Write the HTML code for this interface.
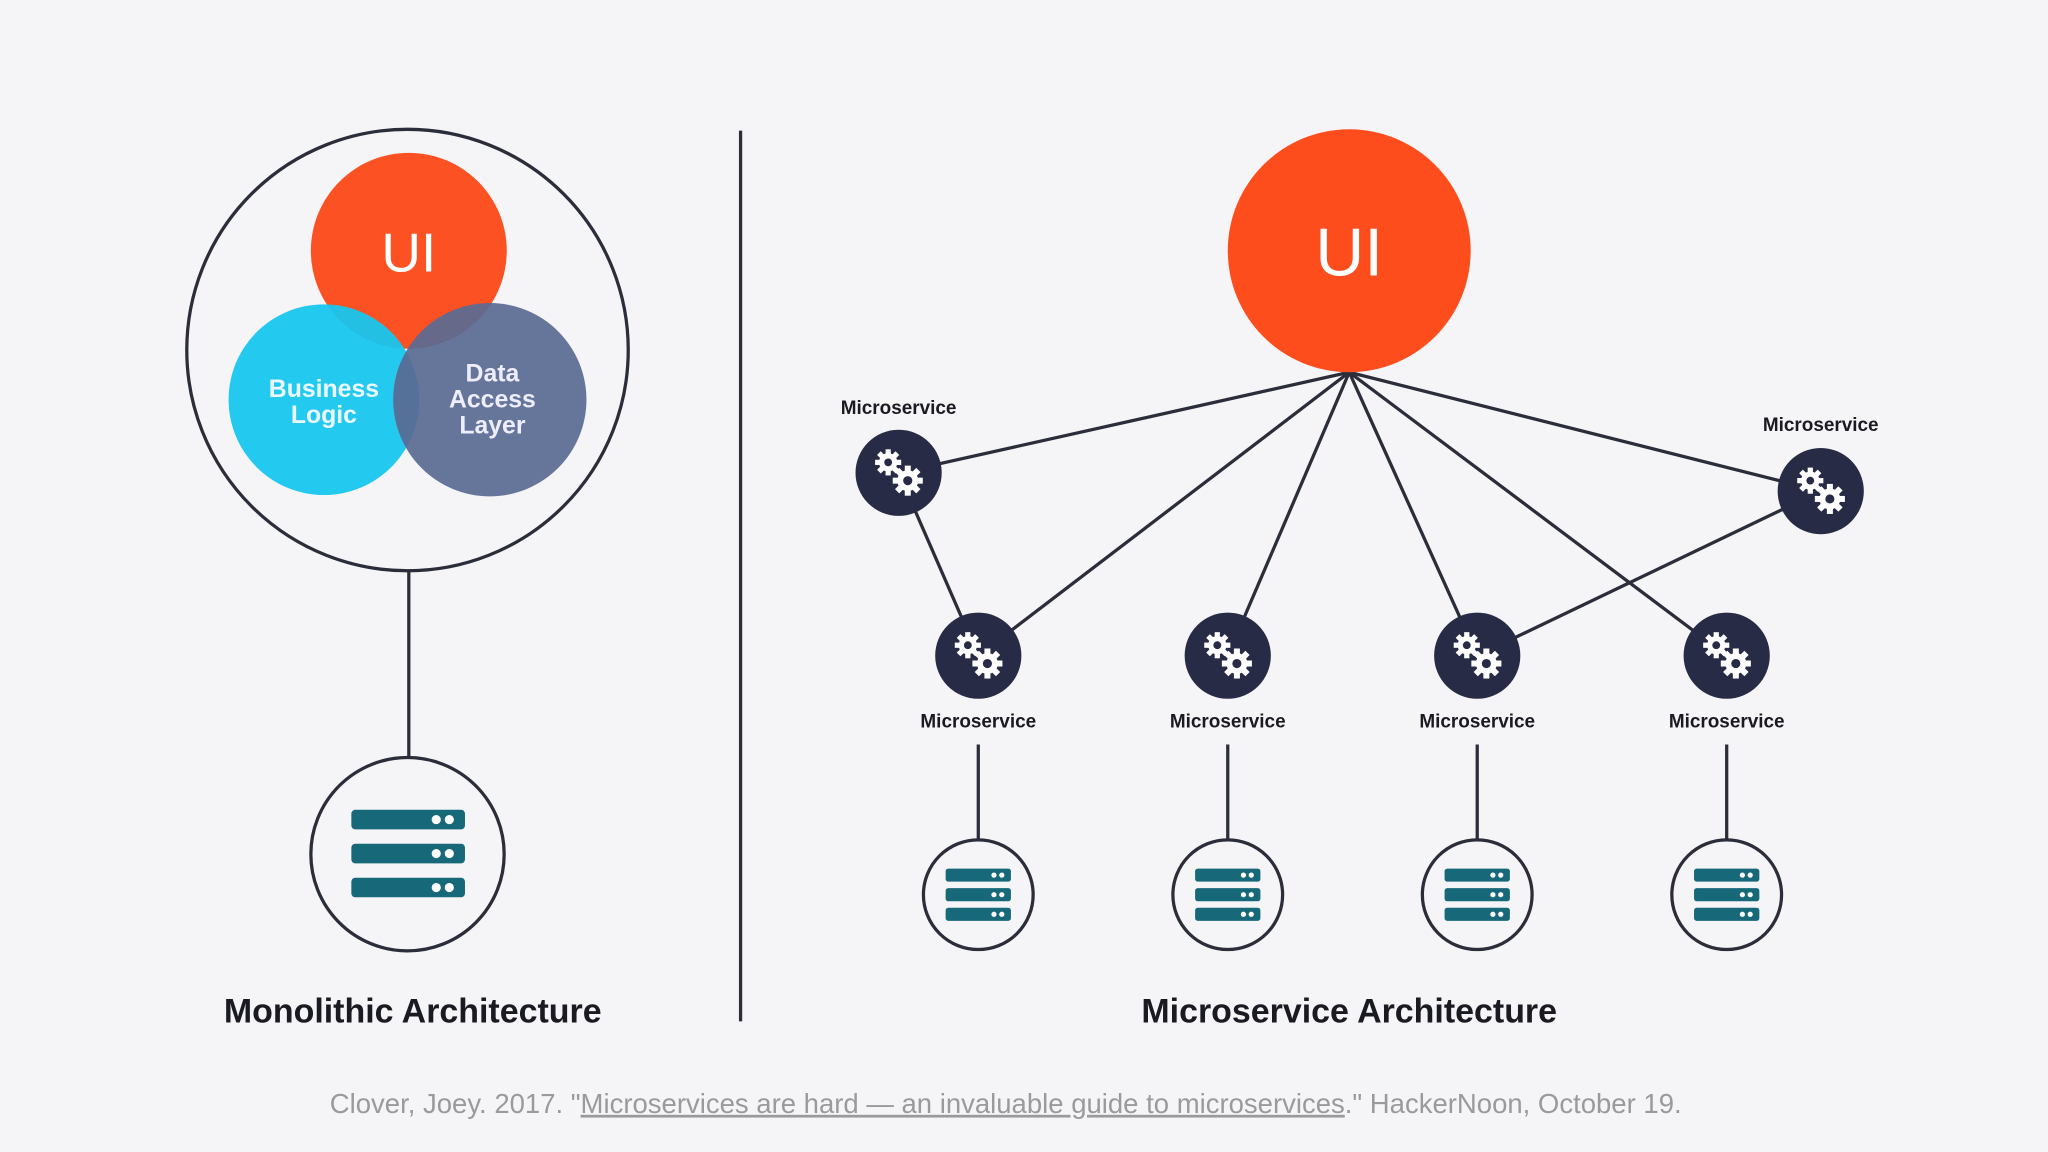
<!DOCTYPE html>
<html><head><meta charset="utf-8"><style>
html,body{margin:0;padding:0;background:#f5f5f7;}
svg{display:block;}
text{font-family:"Liberation Sans",sans-serif;}
</style></head><body>
<svg width="2048" height="1152" viewBox="0 0 1568 882" xmlns="http://www.w3.org/2000/svg">
<defs>
<g id="gear">
<g fill="#fff">
<circle cx="-8" cy="-8" r="7"/>
<g transform="translate(-8,-8)">
<rect x="-2" y="-10" width="4" height="20"/><rect x="-2" y="-10" width="4" height="20" transform="rotate(45)"/><rect x="-2" y="-10" width="4" height="20" transform="rotate(90)"/><rect x="-2" y="-10" width="4" height="20" transform="rotate(135)"/>
</g>
<circle cx="7" cy="6" r="8"/>
<g transform="translate(7,6)">
<rect x="-2.3" y="-11.5" width="4.6" height="23"/><rect x="-2.3" y="-11.5" width="4.6" height="23" transform="rotate(45)"/><rect x="-2.3" y="-11.5" width="4.6" height="23" transform="rotate(90)"/><rect x="-2.3" y="-11.5" width="4.6" height="23" transform="rotate(135)"/>
</g>
</g>
<circle cx="-8" cy="-8" r="3" fill="#272b45"/>
<circle cx="7" cy="6" r="3.5" fill="#272b45"/>
</g>
<g id="dbs">
<rect x="-25" y="-20" width="50" height="10" rx="2" fill="#17697a"/>
<rect x="-25" y="-5" width="50" height="10" rx="2" fill="#17697a"/>
<rect x="-25" y="10" width="50" height="10" rx="2" fill="#17697a"/>
<g fill="#fff"><circle cx="12" cy="-15" r="2"/><circle cx="18" cy="-15" r="2"/><circle cx="12" cy="0" r="2"/><circle cx="18" cy="0" r="2"/><circle cx="12" cy="15" r="2"/><circle cx="18" cy="15" r="2"/></g>
</g>
</defs>
<rect width="1568" height="882" fill="#f5f5f7"/>

<!-- Monolith -->
<circle cx="312" cy="268" r="169" fill="none" stroke="#2b2d3a" stroke-width="2.5"/>
<circle cx="313" cy="192" r="75" fill="#fb5123"/>
<circle cx="248" cy="306" r="73" fill="#18c6ef" fill-opacity="0.95"/>
<circle cx="375" cy="306" r="74" fill="#5a6a92" fill-opacity="0.93"/>
<text x="313" y="208" font-size="42" fill="#fff" text-anchor="middle">UI</text>
<text x="248" y="304" font-size="19" font-weight="bold" fill="#eafaff" text-anchor="middle">Business</text>
<text x="248" y="324" font-size="19" font-weight="bold" fill="#eafaff" text-anchor="middle">Logic</text>
<text x="377" y="292" font-size="19" font-weight="bold" fill="#eef" text-anchor="middle">Data</text>
<text x="377" y="312" font-size="19" font-weight="bold" fill="#eef" text-anchor="middle">Access</text>
<text x="377" y="332" font-size="19" font-weight="bold" fill="#eef" text-anchor="middle">Layer</text>
<line x1="313" y1="437" x2="313" y2="580" stroke="#2b2d3a" stroke-width="2.5"/>
<circle cx="312" cy="654" r="74" fill="none" stroke="#2b2d3a" stroke-width="2.5"/>
<g fill="#17697a">
<rect x="269" y="620" width="87" height="15" rx="3"/>
<rect x="269" y="646" width="87" height="15" rx="3"/>
<rect x="269" y="672" width="87" height="15" rx="3"/>
</g>
<g fill="#fff">
<circle cx="334" cy="627.5" r="3.5"/><circle cx="344" cy="627.5" r="3.5"/>
<circle cx="334" cy="653.5" r="3.5"/><circle cx="344" cy="653.5" r="3.5"/>
<circle cx="334" cy="679.5" r="3.5"/><circle cx="344" cy="679.5" r="3.5"/>
</g>
<text x="316" y="783" font-size="26" font-weight="bold" fill="#1a1a22" text-anchor="middle">Monolithic Architecture</text>

<line x1="567" y1="100" x2="567" y2="782" stroke="#2b2d3a" stroke-width="2.5"/>

<!-- Microservices -->
<g stroke="#2b2d3a" stroke-width="2.5">
<line x1="1033" y1="285" x2="688" y2="362"/>
<line x1="1033" y1="285" x2="1394" y2="376"/>
<line x1="1033" y1="285" x2="749" y2="502"/>
<line x1="1033" y1="285" x2="940" y2="502"/>
<line x1="1033" y1="285" x2="1131" y2="502"/>
<line x1="1033" y1="285" x2="1322" y2="502"/>
<line x1="688" y1="362" x2="749" y2="502"/>
<line x1="1394" y1="376" x2="1131" y2="502"/>
<line x1="749" y1="570" x2="749" y2="642"/>
<line x1="940" y1="570" x2="940" y2="642"/>
<line x1="1131" y1="570" x2="1131" y2="642"/>
<line x1="1322" y1="570" x2="1322" y2="642"/>
</g>
<circle cx="1033" cy="192" r="93" fill="#fd4d1d"/>
<text x="1033" y="211" font-size="52" fill="#fff" text-anchor="middle">UI</text>

<g fill="#272b45">
<circle cx="688" cy="362" r="33"/><circle cx="1394" cy="376" r="33"/>
<circle cx="749" cy="502" r="33"/><circle cx="940" cy="502" r="33"/><circle cx="1131" cy="502" r="33"/><circle cx="1322" cy="502" r="33"/>
</g>
<use href="#gear" x="688" y="362"/><use href="#gear" x="1394" y="376"/>
<use href="#gear" x="749" y="502"/><use href="#gear" x="940" y="502"/><use href="#gear" x="1131" y="502"/><use href="#gear" x="1322" y="502"/>

<g font-size="14.5" font-weight="bold" fill="#1a1a22" text-anchor="middle">
<text x="688" y="317">Microservice</text>
<text x="1394" y="330">Microservice</text>
<text x="749" y="557">Microservice</text>
<text x="940" y="557">Microservice</text>
<text x="1131" y="557">Microservice</text>
<text x="1322" y="557">Microservice</text>
</g>

<g fill="#f5f5f7" stroke="#2b2d3a" stroke-width="2.5">
<circle cx="749" cy="685" r="42"/><circle cx="940" cy="685" r="42"/><circle cx="1131" cy="685" r="42"/><circle cx="1322" cy="685" r="42"/>
</g>
<use href="#dbs" x="749" y="685"/><use href="#dbs" x="940" y="685"/><use href="#dbs" x="1131" y="685"/><use href="#dbs" x="1322" y="685"/>

<text x="1033" y="783" font-size="26" font-weight="bold" fill="#1a1a22" text-anchor="middle">Microservice Architecture</text>

<text x="770" y="852" font-size="21" fill="#9a9a9e" text-anchor="middle" textLength="1035" lengthAdjust="spacingAndGlyphs">Clover, Joey. 2017. "<tspan text-decoration="underline">Microservices are hard — an invaluable guide to microservices</tspan>." HackerNoon, October 19.</text>
</svg>
</body></html>
